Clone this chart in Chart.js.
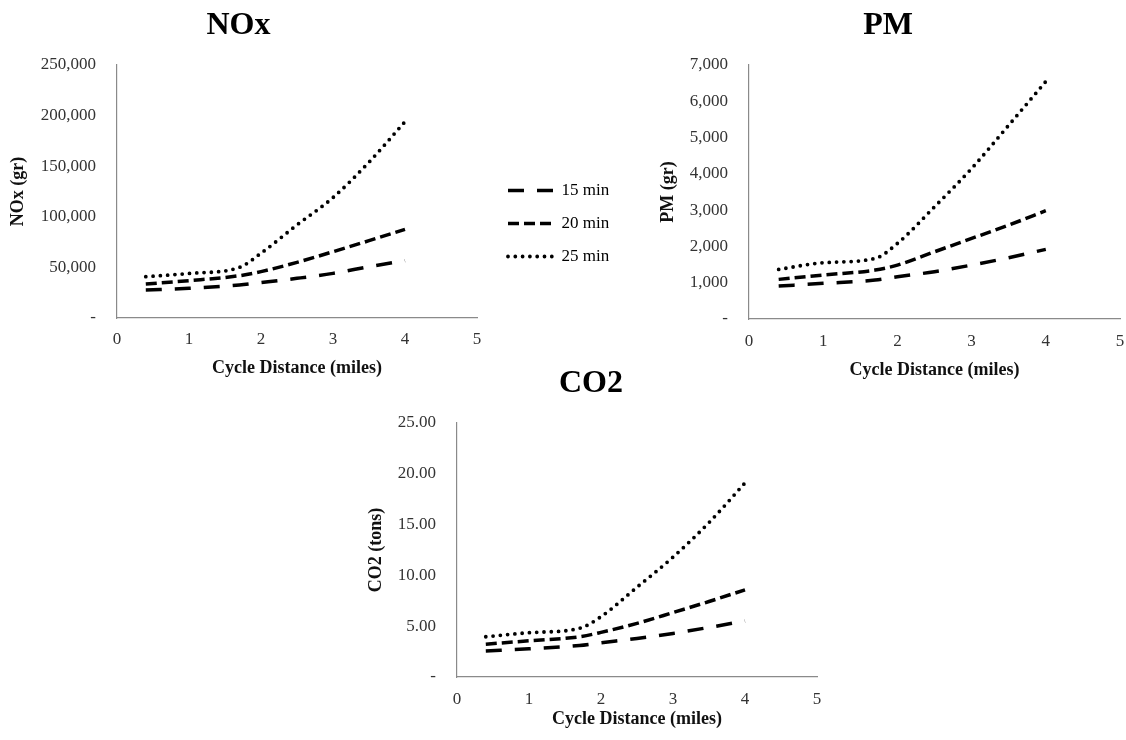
<!DOCTYPE html>
<html>
<head>
<meta charset="utf-8">
<title>Emissions by cycle distance</title>
<script src="https://cdn.jsdelivr.net/npm/chart.js@4.4.1/dist/chart.umd.min.js"></script>
<style>
  html, body { margin: 0; padding: 0; background: #ffffff; }
  body { width: 1126px; height: 740px; position: relative; overflow: hidden; }
  canvas { position: absolute; }
</style>
</head>
<body>
<canvas id="nox"    width="620" height="385" style="left:0px;top:0px"></canvas>
<canvas id="pm"     width="483" height="385" style="left:656px;top:0px"></canvas>
<canvas id="co2"    width="471" height="382" style="left:365px;top:358px"></canvas>
<canvas id="legend" width="300" height="140" style="left:492px;top:166px"></canvas>
<script>
// Cycle distances (miles) at which emissions were evaluated
const distance = [0.4, 1.0, 1.7, 2.0, 2.5, 3.0, 3.5, 4.0];
const seriesLabels = ['15 min', '20 min', '25 min'];
const distanceTicks = ['0', '1', '2', '3', '4', '5'];

// NOx (gr)
const nox15 = [27700, 29300, 32600, 35000, 39200, 44100, 50700, 56700];
const nox20 = [33600, 36900, 41800, 45800, 55000, 65500, 76400, 87600];
const nox25 = [40800, 44000, 50000, 64000, 92000, 119000, 154000, 194000];
const noxTicks = ['-', '50,000', '100,000', '150,000', '200,000', '250,000'];

// PM (gr)
const pm15 = [908, 982, 1073, 1165, 1303, 1486, 1688, 1920];
const pm20 = [1092, 1211, 1349, 1486, 1853, 2220, 2587, 2985];
const pm25 = [1367, 1550, 1670, 2083, 3092, 4147, 5340, 6545];
const pmTicks = ['-', '1,000', '2,000', '3,000', '4,000', '5,000', '6,000', '7,000'];

// CO2 (tons)
const co215 = [2.57, 2.77, 3.10, 3.37, 3.80, 4.29, 4.88, 5.51];
const co220 = [3.23, 3.56, 3.96, 4.39, 5.28, 6.34, 7.43, 8.58];
const co225 = [3.96, 4.36, 4.79, 5.94, 8.84, 11.8, 15.2, 19.1];
const co2Ticks = ['-', '5.00', '10.00', '15.00', '20.00', '25.00'];

const SERIF = "'Liberation Serif', 'Times New Roman', Times, serif";
Chart.defaults.font.family = SERIF;
Chart.defaults.animation = false;

// line styles: long dash, short dash, dotted
const lineStyles = [
  { borderDash: [16, 13], borderCapStyle: 'butt', borderWidth: 3.5 },
  { borderDash: [11, 5], borderCapStyle: 'butt', borderWidth: 3.5 },
  { borderDash: [0, 7.3], borderCapStyle: 'round', borderWidth: 3.8 }
];

function makeDatasets(seriesList) {
  return seriesList.map((vals, i) => Object.assign({
    label: seriesLabels[i],
    data: distance.map((d, j) => ({ x: d, y: vals[j] })),
    borderColor: '#000000',
    backgroundColor: '#000000',
    pointRadius: 0,
    fill: false,
    cubicInterpolationMode: 'monotone'
  }, lineStyles[i]));
}

function makePanel(id, p) {
  new Chart(document.getElementById(id), {
    type: 'line',
    data: { datasets: makeDatasets(p.series) },
    options: {
      responsive: false,
      layout: { padding: { left: 0, right: p.padRight, top: 0, bottom: 0 } },
      plugins: {
        legend: { display: false },
        tooltip: { enabled: false },
        title: {
          display: true,
          text: p.title,
          color: '#000000',
          font: { family: SERIF, size: 32, weight: 'bold' },
          padding: { top: 7, bottom: 19.6 }
        }
      },
      scales: {
        x: {
          type: 'linear',
          min: 0, max: 5,
          grid: { display: false, drawTicks: false },
          border: { display: true, color: '#8a8a8a', width: 1.2 },
          ticks: {
            stepSize: 1, autoSkip: false, maxRotation: 0,
            padding: p.xTickPad,
            color: '#333333',
            font: { size: 17, lineHeight: 1 },
            callback: (v, i) => distanceTicks[i]
          },
          title: {
            display: true,
            text: 'Cycle Distance (miles)',
            color: '#111111',
            font: { size: 18, weight: 'bold', lineHeight: 1 },
            padding: { top: p.xTitleTop, bottom: p.xTitleBottom }
          }
        },
        y: {
          min: 0, max: p.yMax,
          afterFit: (scale) => { scale.width = p.yWidth; },
          grid: { display: false, drawTicks: false },
          border: { display: true, color: '#8a8a8a', width: 1.2 },
          ticks: {
            stepSize: p.yStep, autoSkip: false,
            padding: 21,
            color: '#333333',
            font: { size: 17, lineHeight: 1 },
            callback: (v, i) => p.yTicks[i]
          },
          title: {
            display: true,
            text: p.yTitle,
            color: '#111111',
            font: { size: 18, weight: 'bold', lineHeight: 1 },
            padding: { top: p.yTitleTop, bottom: 0 }
          }
        }
      }
    }
  });
}

makePanel('nox', {
  title: 'NOx', yTitle: 'NOx (gr)',
  series: [nox15, nox20, nox25],
  yMax: 250000, yStep: 50000, yTicks: noxTicks,
  yWidth: 117, padRight: 143, yTitleTop: 9,
  xTickPad: 13.5, xTitleTop: -3, xTitleBottom: 8
});

makePanel('pm', {
  title: 'PM', yTitle: 'PM (gr)',
  series: [pm15, pm20, pm25],
  yMax: 7000, yStep: 1000, yTicks: pmTicks,
  yWidth: 93, padRight: 19, yTitleTop: 3,
  xTickPad: 14.2, xTitleTop: -3.4, xTitleBottom: 6
});

makePanel('co2', {
  title: 'CO2', yTitle: 'CO2 (tons)',
  series: [co215, co220, co225],
  yMax: 25, yStep: 5, yTicks: co2Ticks,
  yWidth: 92, padRight: 19, yTitleTop: 2.7,
  xTickPad: 14.5, xTitleTop: -13, xTitleBottom: 12
});

// shared legend for the three panels
new Chart(document.getElementById('legend'), {
  type: 'line',
  data: { datasets: makeDatasets([[], [], []]) },
  options: {
    responsive: false,
    layout: { padding: 0 },
    scales: { x: { display: false }, y: { display: false } },
    plugins: {
      tooltip: { enabled: false },
      legend: {
        display: true,
        position: 'left',
        align: 'start',
        labels: {
          usePointStyle: true,
          pointStyle: 'line',
          pointStyleWidth: 45,
          padding: 16,
          color: '#222222',
          font: { family: SERIF, size: 17 },
          generateLabels: (chart) => chart.data.datasets.map((ds, i) => ({
            text: ds.label,
            fillStyle: ds.borderColor,
            strokeStyle: ds.borderColor,
            lineWidth: ds.borderWidth,
            lineDash: ds.borderDash,
            lineCap: ds.borderCapStyle,
            pointStyle: 'line',
            hidden: false,
            datasetIndex: i
          }))
        }
      }
    }
  }
});
</script>
</body>
</html>
